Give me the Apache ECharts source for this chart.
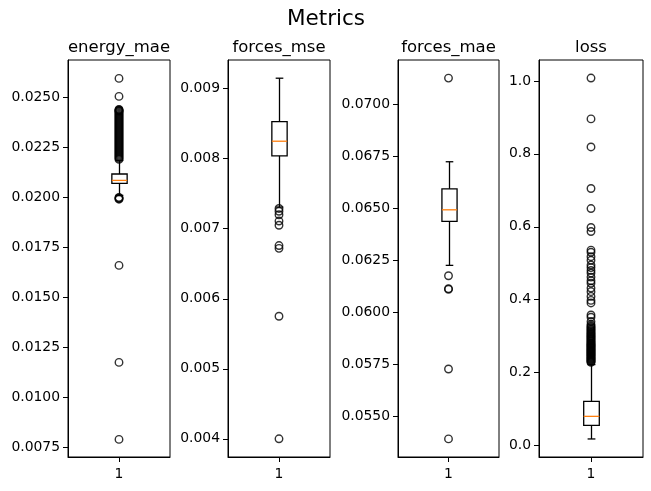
<!DOCTYPE html>
<html>
<head>
<meta charset="utf-8">
<script src="https://cdn.jsdelivr.net/npm/echarts@6/dist/echarts.min.js"></script>
<style>
  html, body { margin: 0; padding: 0; background: #fff; }
  #main { width: 651px; height: 491px; }
</style>
</head>
<body>
<div id="main"></div>
<script>
// panel names
var names = ['energy_mae', 'forces_mse', 'forces_mae', 'loss'];

// box stats: [lower whisker, q1, median, q3, upper whisker]
var energyStats = [0.02010, 0.02070, 0.02085, 0.02117, 0.02185];
var mseStats = [0.00731, 0.00804, 0.00825, 0.00853, 0.00915];
var maeStats = [0.06225, 0.06436, 0.06492, 0.06593, 0.06723];
var lossStats = [0.018, 0.055, 0.080, 0.121, 0.222];

// fliers
var energyOut = [0.02595, 0.02505, 0.0244, 0.02437, 0.02435, 0.02432, 0.0243, 0.02425, 0.0242,
  0.02415, 0.0241, 0.02405, 0.0240, 0.02395, 0.0239, 0.02385, 0.0238, 0.02375, 0.0237, 0.02365,
  0.0236, 0.02355, 0.0235, 0.02345, 0.0234, 0.02335, 0.0233, 0.02325, 0.0232, 0.02315, 0.0231,
  0.02305, 0.0230, 0.02295, 0.0229, 0.02285, 0.0228, 0.02275, 0.0227, 0.02265, 0.0226, 0.02255,
  0.0225, 0.02245, 0.0224, 0.02235, 0.0223, 0.02225, 0.0222, 0.02215, 0.0221, 0.02205, 0.0220,
  0.02195, 0.0219, 0.02000, 0.01997, 0.01994, 0.01991, 0.0166, 0.01175, 0.0079];
var mseOut = [0.00729, 0.00725, 0.00720, 0.00711, 0.00705, 0.00676, 0.00672, 0.00575, 0.00400];
var maeOut = [0.07125, 0.06175, 0.06113, 0.06110, 0.05727, 0.05391];
var lossOut = [1.008, 0.896, 0.819, 0.705, 0.650, 0.598, 0.587, 0.536, 0.530, 0.518, 0.508, 0.495,
  0.488, 0.480, 0.473, 0.462, 0.452, 0.445, 0.432, 0.422, 0.409, 0.398, 0.391, 0.358, 0.352,
  0.340, 0.332, 0.328, 0.325, 0.322, 0.319, 0.316, 0.313, 0.310, 0.307, 0.305, 0.302, 0.300,
  0.297, 0.295, 0.292, 0.290, 0.287, 0.285, 0.282, 0.280, 0.278, 0.276, 0.274, 0.272, 0.270,
  0.268, 0.266, 0.264, 0.262, 0.260, 0.258, 0.256, 0.254, 0.252, 0.250, 0.248, 0.246, 0.244,
  0.242, 0.240, 0.238, 0.236, 0.234, 0.232, 0.230, 0.228];

// y tick labels
var energyTicks = ['0.0075', '0.0100', '0.0125', '0.0150', '0.0175', '0.0200', '0.0225', '0.0250'];
var mseTicks = ['0.004', '0.005', '0.006', '0.007', '0.008', '0.009'];
var maeTicks = ['0.0550', '0.0575', '0.0600', '0.0625', '0.0650', '0.0675', '0.0700'];
var lossTicks = ['0.0', '0.2', '0.4', '0.6', '0.8', '1.0'];

// y limits (matplotlib auto margins)
var yMins = [0.00702, 0.00374, 0.05304, -0.0315];
var yMaxs = [0.02687, 0.00941, 0.07212, 1.0575];

var statsAll = [energyStats, mseStats, maeStats, lossStats];
var outAll = [energyOut, mseOut, maeOut, lossOut];
var ticksAll = [energyTicks, mseTicks, maeTicks, lossTicks];

var gridLeft = [68, 228, 398, 539];
var gridWidth = [102, 102, 101, 104];

var font = 'DejaVu Sans';
var myChart = echarts.init(document.getElementById('main'));

function renderBox(params, api) {
	var x = api.value(0);
	var lo = api.coord([x, api.value(1)]);
	var q1 = api.coord([x, api.value(2)]);
	var med = api.coord([x, api.value(3)]);
	var q3 = api.coord([x, api.value(4)]);
	var hi = api.coord([x, api.value(5)]);
	var bw = api.size([0.15, 0])[0];
	var cw = bw / 2;
	var cx = Math.round(lo[0]) + 0.5;
	var ln = { stroke: '#000', lineWidth: 1.3 };
	return {
		type: 'group',
		children: [
			{ type: 'line', shape: { x1: cx, y1: q1[1], x2: cx, y2: lo[1] }, style: ln },
			{ type: 'line', shape: { x1: cx, y1: q3[1], x2: cx, y2: hi[1] }, style: ln },
			{ type: 'line', shape: { x1: cx - cw / 2, y1: lo[1], x2: cx + cw / 2, y2: lo[1] }, style: ln },
			{ type: 'line', shape: { x1: cx - cw / 2, y1: hi[1], x2: cx + cw / 2, y2: hi[1] }, style: ln },
			{ type: 'rect', shape: { x: cx - bw / 2, y: q3[1], width: bw, height: q1[1] - q3[1] },
				style: { fill: 'none', stroke: '#000', lineWidth: 1.3 } },
			{ type: 'line', shape: { x1: cx - bw / 2, y1: med[1], x2: cx + bw / 2, y2: med[1] },
				style: { stroke: '#ff7f0e', lineWidth: 1.3 } }
		]
	};
}

var grids = [], xAxes = [], yAxes = [], series = [], titles = [];
titles.push({
	text: 'Metrics', left: 326, top: 8, textAlign: 'center', padding: 0,
	textStyle: { fontFamily: font, fontSize: 21.5, fontWeight: 'normal', color: '#000' }
});
for (var i = 0; i < 4; i++) {
	grids.push({
		left: gridLeft[i], width: gridWidth[i], top: 60, height: 397,
		show: true, borderColor: '#000', borderWidth: 1, backgroundColor: '#fff'
	});
	titles.push({
		text: names[i], left: gridLeft[i] + gridWidth[i] / 2, top: 39, textAlign: 'center', padding: 0,
		textStyle: { fontFamily: font, fontSize: 16.5, fontWeight: 'normal', color: '#000' }
	});
	xAxes.push({
		gridIndex: i, type: 'value', min: 0.5, max: 1.5,
		axisLine: { show: true, onZero: false, lineStyle: { color: '#000', width: 1 } },
		axisTick: { show: true, inside: false, length: 5, customValues: [1], lineStyle: { color: '#000' } },
		axisLabel: { customValues: [1], margin: 10, color: '#000', fontFamily: font, fontSize: 13.9,
			formatter: function (v) { return String(Math.round(v)); } },
		splitLine: { show: false }
	});
	var tv = ticksAll[i].map(function (s) { return parseFloat(s); });
	(function (labels, vals) {
		yAxes.push({
			gridIndex: i, type: 'value', min: yMins[i], max: yMaxs[i],
			axisLine: { show: true, onZero: false, lineStyle: { color: '#000', width: 1 } },
			axisTick: { show: true, inside: false, length: 5, customValues: vals, lineStyle: { color: '#000' } },
			axisLabel: { customValues: vals, margin: 8, color: '#000', fontFamily: font, fontSize: 13.9,
				formatter: function (v) {
					for (var k = 0; k < vals.length; k++) {
						if (Math.abs(vals[k] - v) < 1e-9) return labels[k];
					}
					return '';
				} },
			splitLine: { show: false }
		});
	})(ticksAll[i], tv);
	series.push({
		type: 'custom', xAxisIndex: i, yAxisIndex: i,
		renderItem: renderBox,
		data: [[1].concat(statsAll[i])],
		z: 2
	});
	series.push({
		type: 'scatter', xAxisIndex: i, yAxisIndex: i,
		symbol: 'circle', symbolSize: 7.5,
		itemStyle: { color: 'none', borderColor: '#000', borderWidth: 1.4 },
		data: outAll[i].map(function (v) { return [1, v]; }),
		z: 3
	});
}

var option = {
	animation: false,
	backgroundColor: '#fff',
	title: titles,
	grid: grids,
	xAxis: xAxes,
	yAxis: yAxes,
	series: series
};
myChart.setOption(option, true);
</script>
</body>
</html>
